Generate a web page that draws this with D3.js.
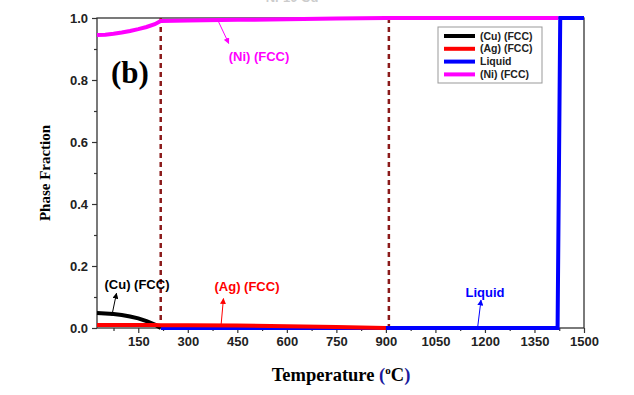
<!DOCTYPE html>
<html>
<head>
<meta charset="utf-8">
<script src="https://cdn.jsdelivr.net/npm/d3@7"></script>
<style>
  body { margin: 0; background: #fff; }
  svg { display: block; }
</style>
</head>
<body>
<div id="chart"></div>
<script>
// phase fraction vs temperature
const cuTemp = [25, 50, 75, 100, 125, 150, 175, 200, 218];
const cuFrac = [0.048, 0.047, 0.045, 0.042, 0.037, 0.031, 0.022, 0.011, 0];

const agTemp = [25, 100, 200, 218, 300, 450, 600, 750, 900];
const agFrac = [0.01, 0.01, 0.01, 0.009, 0.009, 0.008, 0.006, 0.003, 0];

const liqTemp = [218, 900, 1420, 1428, 1500];
const liqFrac = [0, 0, 0, 1.0, 1.0];

const niTemp = [25, 50, 75, 100, 125, 150, 175, 200, 218, 300, 450, 600, 750, 900, 1422];
const niFrac = [0.945, 0.946, 0.949, 0.953, 0.958, 0.964, 0.971, 0.98, 0.99, 0.992, 0.994, 0.996, 0.998, 1.0, 1.0];

const boundaries = [218, 909];
const xTicks = [150, 300, 450, 600, 750, 900, 1050, 1200, 1350, 1500];
const yTicks = [0, 0.2, 0.4, 0.6, 0.8, 1.0];

const series = [
  { name: "(Cu) (FCC)", color: "#000000", t: cuTemp, v: cuFrac },
  { name: "(Ag) (FCC)", color: "#ff0000", t: agTemp, v: agFrac },
  { name: "Liquid", color: "#0000ff", t: liqTemp, v: liqFrac },
  { name: "(Ni) (FCC)", color: "#ff00ff", t: niTemp, v: niFrac }
];

const W = 634, H = 395;
const m = { left: 97, right: 50, top: 18, bottom: 67 };
const iw = W - m.left - m.right, ih = H - m.top - m.bottom;

const svg = d3.select("#chart").append("svg")
  .attr("width", W).attr("height", H);

// faint title, clipped by the top edge in the original
svg.append("text")
  .attr("x", 292).attr("y", 2)
  .attr("text-anchor", "middle")
  .attr("font-family", "Arial, sans-serif").attr("font-weight", "bold")
  .attr("font-size", 13).attr("fill", "#ccc")
  .text("Ni-10 Cu");

const g = svg.append("g").attr("transform", `translate(${m.left},${m.top})`);

const x = d3.scaleLinear().domain([25, 1500]).range([0, iw]);
const y = d3.scaleLinear().domain([0, 1]).range([ih, 0]);

// axes
const xAxis = g.append("g").attr("transform", `translate(0,${ih})`)
  .call(d3.axisBottom(x).tickValues(xTicks).tickSize(5).tickPadding(4).tickFormat(d3.format("d")));
const xMinor = g.append("g").attr("transform", `translate(0,${ih})`)
  .call(d3.axisBottom(x).tickValues(d3.range(75, 1500, 150)).tickSize(3).tickFormat(""));
const yAxis = g.append("g")
  .call(d3.axisLeft(y).tickValues(yTicks).tickSize(5).tickPadding(4).tickFormat(d3.format(".1f")));
const yMinor = g.append("g")
  .call(d3.axisLeft(y).tickValues([0.1, 0.3, 0.5, 0.7, 0.9]).tickSize(3).tickFormat(""));

[xAxis, xMinor, yAxis, yMinor].forEach(a => {
  a.select(".domain").remove();
  a.selectAll("line").attr("stroke", "#333").attr("stroke-width", 1.2);
  a.selectAll("text").attr("font-family", "Arial, sans-serif")
    .attr("font-weight", "bold").attr("font-size", 13).attr("fill", "#222");
});

// frame
g.append("rect").attr("width", iw).attr("height", ih)
  .attr("fill", "none").attr("stroke", "#333").attr("stroke-width", 1.3);

// phase boundary markers
g.selectAll(".bound").data(boundaries).enter().append("line")
  .attr("x1", d => x(d)).attr("x2", d => x(d))
  .attr("y1", 0).attr("y2", ih)
  .attr("stroke", "#8b1a1a").attr("stroke-width", 2.5)
  .attr("stroke-dasharray", "5,4");

const line = d3.line().x(d => x(d[0])).y(d => y(d[1]));

// draw order: liquid underneath the solids
["Liquid", "(Cu) (FCC)", "(Ag) (FCC)", "(Ni) (FCC)"].forEach(n => {
  const s = series.find(k => k.name === n);
  g.append("path")
    .datum(s.t.map((t, i) => [t, s.v[i]]))
    .attr("d", line)
    .attr("fill", "none")
    .attr("stroke", s.color)
    .attr("stroke-width", 4);
});

// annotations with arrows
const defs = svg.append("defs");
series.forEach((s, i) => {
  defs.append("marker").attr("id", "arr" + i)
    .attr("viewBox", "0 0 10 10").attr("refX", 9).attr("refY", 5)
    .attr("markerWidth", 6).attr("markerHeight", 6).attr("orient", "auto")
    .append("path").attr("d", "M0,0 L10,5 L0,10 z").attr("fill", s.color);
});

const notes = [
  { s: 0, tx: 137, ty: 289, from: [70, 0.04], to: [84, 0.112] },
  { s: 1, tx: 247, ty: 291, from: [401, 0.012], to: [408, 0.095] },
  { s: 2, tx: 485, ty: 297, from: [1178, 0.003], to: [1188, 0.09] },
  { s: 3, tx: 259, ty: 61, from: [390, 0.995], to: [424, 0.918] }
];
notes.forEach(n => {
  const s = series[n.s];
  g.append("line")
    .attr("x1", x(n.from[0])).attr("y1", y(n.from[1]))
    .attr("x2", x(n.to[0])).attr("y2", y(n.to[1]))
    .attr("stroke", s.color).attr("stroke-width", 1)
    .attr("marker-end", `url(#arr${n.s})`);
  svg.append("text")
    .attr("x", n.tx).attr("y", n.ty)
    .attr("text-anchor", "middle")
    .attr("font-family", "Arial, sans-serif").attr("font-weight", "bold")
    .attr("font-size", 13).attr("fill", s.color)
    .text(s.name);
});

// panel letter
svg.append("text")
  .attr("x", 130).attr("y", 83).attr("text-anchor", "middle")
  .attr("font-family", "'Liberation Serif', 'Times New Roman', serif")
  .attr("font-weight", "bold").attr("font-size", 31)
  .text("(b)");

// legend
const lg = svg.append("g").attr("transform", "translate(438,27)");
lg.append("rect").attr("width", 104).attr("height", 56)
  .attr("fill", "#fff").attr("stroke", "#999").attr("stroke-width", 1);
series.forEach((s, i) => {
  const yy = 9 + i * 12.8;
  lg.append("line").attr("x1", 6).attr("x2", 37).attr("y1", yy).attr("y2", yy)
    .attr("stroke", s.color).attr("stroke-width", 4);
  lg.append("text").attr("x", 42).attr("y", yy + 3.5)
    .attr("font-family", "Arial, sans-serif").attr("font-weight", "bold")
    .attr("font-size", 10.5).attr("fill", "#222")
    .text(s.name);
});

// axis titles
svg.append("text")
  .attr("transform", `translate(50,${m.top + ih / 2}) rotate(-90)`)
  .attr("text-anchor", "middle")
  .attr("font-family", "'Liberation Serif', 'Times New Roman', serif")
  .attr("font-weight", "bold").attr("font-size", 15)
  .text("Phase Fraction");

const xt = svg.append("text")
  .attr("x", 341).attr("y", 381).attr("text-anchor", "middle")
  .attr("font-family", "'Liberation Serif', 'Times New Roman', serif")
  .attr("font-weight", "bold").attr("font-size", 18.5);
xt.append("tspan").text("Temperature ");
xt.append("tspan").attr("fill", "#1a1aa0").text("(");
xt.append("tspan").attr("font-size", 11).attr("dy", -7).text("o");
xt.append("tspan").attr("dy", 7).text("C");
xt.append("tspan").attr("fill", "#1a1aa0").text(")");
</script>
</body>
</html>
